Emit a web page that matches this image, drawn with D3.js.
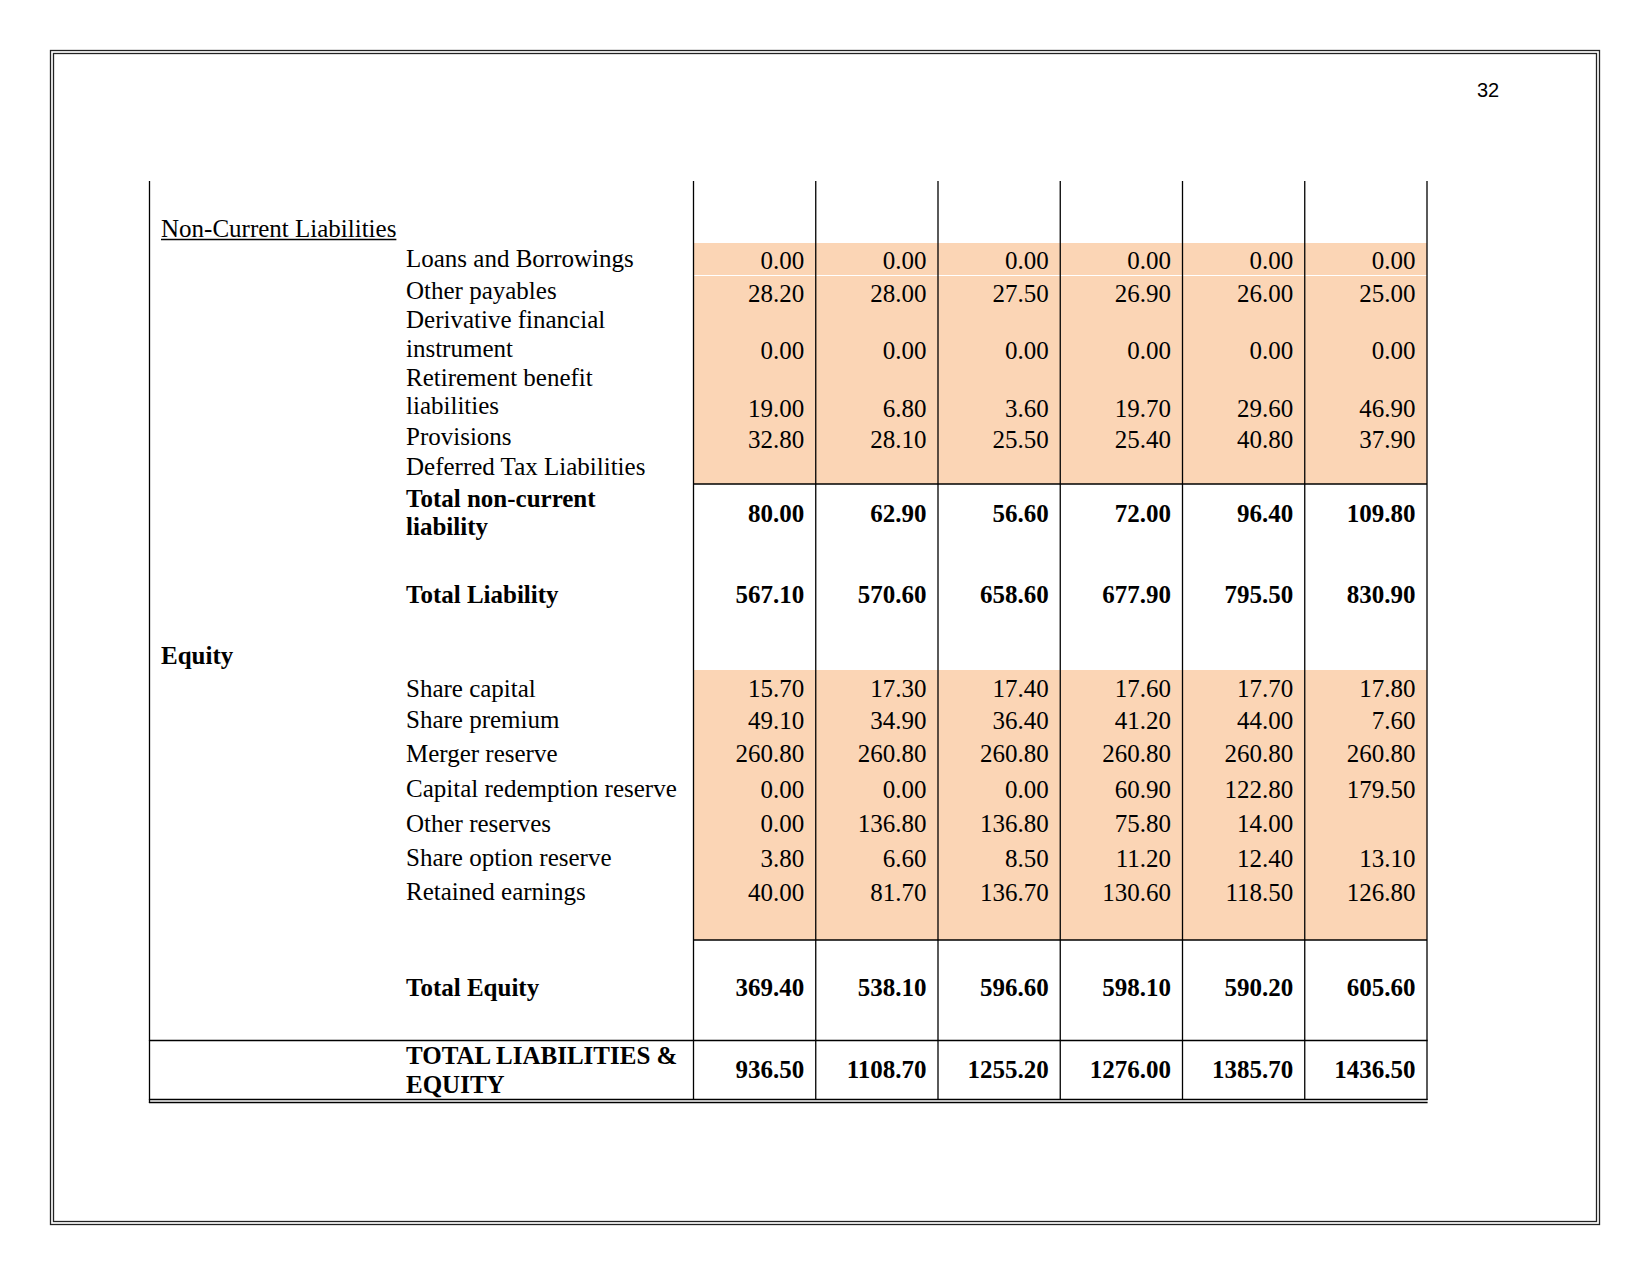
<!DOCTYPE html>
<html><head><meta charset="utf-8">
<script src="https://cdn.jsdelivr.net/npm/d3@7"></script>
<style>html,body{margin:0;padding:0;background:#fff;} svg{display:block}</style>
</head><body>
<script>
// ---------------- DATA ----------------
const pageNumber = "32";
const ncHeading = "Non-Current Liabilities";
const ncLabels = ["Loans and Borrowings", "Other payables", "Derivative financial instrument",
  "Retirement benefit liabilities", "Provisions", "Deferred Tax Liabilities"];
const ncValues = [
  [0.00, 0.00, 0.00, 0.00, 0.00, 0.00],
  [28.20, 28.00, 27.50, 26.90, 26.00, 25.00],
  [0.00, 0.00, 0.00, 0.00, 0.00, 0.00],
  [19.00, 6.80, 3.60, 19.70, 29.60, 46.90],
  [32.80, 28.10, 25.50, 25.40, 40.80, 37.90],
  [null, null, null, null, null, null]
];
const totalNonCurrentLabel = "Total non-current liability";
const totalNonCurrent = [80.00, 62.90, 56.60, 72.00, 96.40, 109.80];
const totalLiabilityLabel = "Total Liability";
const totalLiability = [567.10, 570.60, 658.60, 677.90, 795.50, 830.90];
const equityHeading = "Equity";
const eqLabels = ["Share capital", "Share premium", "Merger reserve", "Capital redemption reserve",
  "Other reserves", "Share option reserve", "Retained earnings"];
const eqValues = [
  [15.70, 17.30, 17.40, 17.60, 17.70, 17.80],
  [49.10, 34.90, 36.40, 41.20, 44.00, 7.60],
  [260.80, 260.80, 260.80, 260.80, 260.80, 260.80],
  [0.00, 0.00, 0.00, 60.90, 122.80, 179.50],
  [0.00, 136.80, 136.80, 75.80, 14.00, null],
  [3.80, 6.60, 8.50, 11.20, 12.40, 13.10],
  [40.00, 81.70, 136.70, 130.60, 118.50, 126.80]
];
const totalEquityLabel = "Total Equity";
const totalEquity = [369.40, 538.10, 596.60, 598.10, 590.20, 605.60];
const grandTotalLabel = "TOTAL LIABILITIES & EQUITY";
const grandTotal = [936.50, 1108.70, 1255.20, 1276.00, 1385.70, 1436.50];

// ---------------- LAYOUT ----------------
const W = 1650, H = 1275;
const serif = "'Liberation Serif','Times New Roman',serif";
const FS = 25, LH = 28.5;
const labelX = 406, headX = 161;
const tableLeft = 149.5, tableTop = 181, tableRight = 1427;
const orange = "#FBD5B5";
const fmt = d3.format(".2f");

const svg = d3.select("body").append("svg").attr("width", W).attr("height", H);

const x = d3.scaleBand().domain(d3.range(totalLiability.length)).range([693.5, tableRight]);

// page border (double line)
svg.append("rect").attr("x", 50.5).attr("y", 50.5).attr("width", 1549).attr("height", 1174)
  .attr("fill", "none").attr("stroke", "#222").attr("stroke-width", 1.3);
svg.append("rect").attr("x", 53.5).attr("y", 53.5).attr("width", 1543).attr("height", 1168)
  .attr("fill", "none").attr("stroke", "#222").attr("stroke-width", 1.3);

svg.append("text").attr("x", 1488).attr("y", 97).attr("text-anchor", "middle")
  .attr("font-family", "'Liberation Sans',Arial,sans-serif").attr("font-size", 20).attr("fill", "#000")
  .text(pageNumber);

// orange shaded blocks
const blocks = [[243, 484], [670, 940]];
blocks.forEach(([y0, y1]) => {
  svg.append("g").selectAll("rect").data(d3.range(6)).join("rect")
    .attr("x", d => x(d)).attr("y", y0).attr("width", x.bandwidth()).attr("height", y1 - y0)
    .attr("fill", orange);
});
// thin white separator
svg.append("line").attr("x1", x(0)).attr("x2", tableRight).attr("y1", 275.5).attr("y2", 275.5)
  .attr("stroke", "#fff").attr("stroke-width", 1.2);

// grid lines
const lineG = svg.append("g").attr("stroke", "#000").attr("stroke-width", 1.3);
lineG.append("line").attr("x1", tableLeft).attr("x2", tableLeft).attr("y1", tableTop).attr("y2", 1103);
lineG.selectAll(".vl").data(d3.range(7)).join("line").attr("class", "vl")
  .attr("x1", d => d < 6 ? x(d) : tableRight).attr("x2", d => d < 6 ? x(d) : tableRight)
  .attr("y1", tableTop).attr("y2", 1100);
[484, 940].forEach(y => lineG.append("line").attr("x1", x(0)).attr("x2", tableRight).attr("y1", y).attr("y2", y));
[1040.5, 1099.5, 1102.5].forEach(y => lineG.append("line").attr("x1", tableLeft - 0.6).attr("x2", tableRight + 0.6).attr("y1", y).attr("y2", y));

// text helpers
const textG = svg.append("g").attr("font-family", serif).attr("font-size", FS).attr("fill", "#000");
function wrapWords(str, bold, maxW) {
  const t = textG.append("text").attr("font-weight", bold ? "bold" : "normal");
  const words = str.split(" ");
  const lines = []; let cur = "";
  words.forEach(w => {
    const test = cur ? cur + " " + w : w;
    t.text(test);
    if (t.node().getComputedTextLength() > maxW && cur) { lines.push(cur); cur = w; }
    else cur = test;
  });
  if (cur) lines.push(cur);
  t.remove();
  return lines;
}
function label(str, y, bold, center) {
  const lines = wrapWords(str, bold, 274);
  const t = textG.append("text").attr("font-weight", bold ? "bold" : "normal");
  lines.forEach((l, i) => t.append("tspan").attr("x", labelX).attr("y", y + i * LH).text(l));
  const last = y + (lines.length - 1) * LH;
  return center ? (y + last) / 2 : last;
}
function numbers(vals, y, bold) {
  textG.append("g").attr("font-weight", bold ? "bold" : "normal")
    .selectAll("text").data(vals.map((v, i) => ({ v, i })).filter(d => d.v !== null)).join("text")
    .attr("x", d => x(d.i) + x.bandwidth() - 11.5).attr("y", y).attr("text-anchor", "end")
    .text(d => fmt(d.v));
}

// headings
const h1 = textG.append("text").attr("x", headX).attr("y", 236.7).text(ncHeading);
const h1w = h1.node().getComputedTextLength();
svg.append("line").attr("x1", headX).attr("x2", headX + h1w).attr("y1", 239.5).attr("y2", 239.5)
  .attr("stroke", "#000").attr("stroke-width", 1.4);
textG.append("text").attr("x", headX).attr("y", 664).attr("font-weight", "bold").text(equityHeading);

// non-current rows
const ncBase = [266.7, 299.3, 328.3, 385.7, 445, 475];
ncLabels.forEach((l, i) => {
  const ny = label(l, ncBase[i], false, false);
  numbers(ncValues[i], ny + 2.5, false);
});
numbers(totalNonCurrent, label(totalNonCurrentLabel, 506.7, true, true) + 1.5, true);
numbers(totalLiability, label(totalLiabilityLabel, 602.7, true, false), true);

// equity rows
const eqBase = [696.7, 728.3, 761.7, 797.3, 831.7, 866, 900];
eqLabels.forEach((l, i) => {
  const ny = label(l, eqBase[i], false, false);
  numbers(eqValues[i], ny + 0.5, false);
});
numbers(totalEquity, label(totalEquityLabel, 996, true, false), true);
numbers(grandTotal, label(grandTotalLabel, 1064, true, true), true);
</script>
</body></html>
